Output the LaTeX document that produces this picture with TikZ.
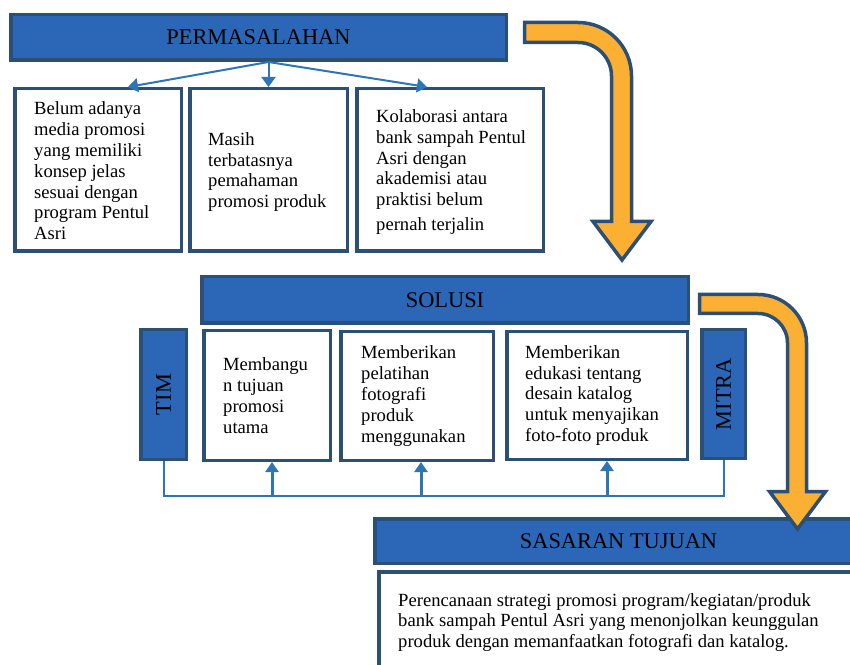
\documentclass[tikz,border=0pt]{standalone}
\usepackage{fontspec}
\setmainfont{Liberation Serif}
\usetikzlibrary{calc,arrows.meta,positioning}
\definecolor{boxc}{HTML}{2B67B6}
\definecolor{edgec}{HTML}{2C5075}
\definecolor{linec}{HTML}{2E75B6}
\definecolor{flowc}{HTML}{FBB034}
\tikzset{
  titlebox/.style={draw=edgec,line width=3.5pt,fill=boxc,inner sep=0pt,font=\fontsize{22.4}{26}\selectfont},
  cellbox/.style={draw=edgec,line width=3.5pt,fill=white,inner sep=0pt},
  txt/.style={font=\fontsize{18.6}{20.8}\selectfont,align=left,inner sep=0pt,anchor=west},
  ar/.style={-{Triangle[length=10pt,width=14pt]},line width=2pt,linec},
  upar/.style={-{Triangle[length=10pt,width=13pt]},line width=3pt,linec},
  busline/.style={line width=2pt,linec},
  flow/.style={draw=edgec,line width=3.5pt,fill=flowc}
}
\begin{document}
\begin{tikzpicture}[x=1pt,y=1pt]
\useasboundingbox (0,0) rectangle (850,664);
\clip (0,0) rectangle (850,664);
\node[titlebox,minimum width=495.5,minimum height=45.5] (perm) at (258.5,626.5) {PERMASALAHAN};
\node[cellbox,minimum width=166.5,minimum height=162.5] (pa) at (98,494) {};
\node[cellbox,minimum width=157.5,minimum height=162.5] (pb) at (268.5,494) {};
\node[cellbox,minimum width=186.5,minimum height=162.5] (pc) at (450,494) {};
\node[txt] (pat) at ($(pa.west)+(21,-1)$) {Belum adanya\\media promosi\\yang memiliki\\konsep jelas\\sesuai dengan\\program Pentul\\Asri};
\node[txt] (pbt) at ($(pb.west)+(20,-2)$) {Masih\\terbatasnya\\pemahaman\\promosi produk};
\node[txt] (pct) at ($(pc.west)+(21,-2)$) {Kolaborasi antara\\bank sampah Pentul\\Asri dengan\\akademisi atau\\praktisi belum\\[4pt]pernah terjalin};
\coordinate (split) at (pb.north |- perm.south);
\draw[ar] (split) -- ($(pa.north)+(30,0)$);
\draw[ar] (split) -- (pb.north);
\draw[ar] (split) -- ($(pc.north)+(-23,0)$);
\draw[flow] (524.5,641.5) -- (578,641.5) arc[start angle=90,end angle=0,radius=53.5]
  -- (631.5,442.5) -- (651,442.5) -- (622,404) -- (593,442.5) -- (611.5,442.5)
  -- (611.5,588) arc[start angle=0,end angle=90,radius=33.5] -- (524.5,621.5) -- cycle;
\node[titlebox,minimum width=486.5,minimum height=46.5] (sol) at (445,364) {SOLUSI};
\node[titlebox,minimum width=45.5,minimum height=129.5] (tim) at (163.5,269.5) {\rotatebox{90}{TIM}};
\node[titlebox,minimum width=43.5,minimum height=128.5] (mitra) at (723.5,270) {\rotatebox{90}{MITRA}};
\node[cellbox,minimum width=126.5,minimum height=129.5] (sa) at (267,268.5) {};
\node[cellbox,minimum width=152.5,minimum height=128.5] (sb) at (417,268) {};
\node[cellbox,minimum width=180.5,minimum height=127.5] (sc) at (597,268.5) {};
\node[txt] (sat) at ($(sa.west)+(21,0)$) {Membangu\\n tujuan\\promosi\\utama};
\node[txt] (sbt) at ($(sb.west)+(22,0)$) {Memberikan\\pelatihan\\fotografi\\produk\\menggunakan};
\node[txt] (sct) at ($(sc.west)+(20,0)$) {Memberikan\\edukasi tentang\\desain katalog\\untuk menyajikan\\foto-foto produk};
\coordinate (bl) at ($(tim.south)+(0,-35)$);
\coordinate (br) at (bl -| mitra.south);
\draw[busline] (tim.south) -- (bl) -- (br) -- (mitra.south);
\coordinate (ta) at ($(sa.south)+(5,0)$);
\coordinate (tb) at ($(sb.south)+(4,0)$);
\coordinate (tc) at ($(sc.south)+(10,0)$);
\draw[upar] (ta |- bl) -- (ta);
\draw[upar] (tb |- bl) -- (tb);
\draw[upar] (tc |- bl) -- (tc);
\node[titlebox,minimum width=487.5,minimum height=44.5] (goal) at (618.5,123) {SASARAN TUJUAN};
\node[cellbox,anchor=north west,minimum width=500,minimum height=150] (goalbox) at (377,94) {};
\node[txt,anchor=north west] (goalt) at ($(goalbox.north west)+(21,-23)$) {Perencanaan strategi promosi program/kegiatan/produk\\bank sampah Pentul Asri yang menonjolkan keunggulan\\produk dengan memanfaatkan fotografi dan katalog.};
\draw[flow] (699.5,369.5) -- (758,369.5) arc[start angle=90,end angle=0,radius=48.5]
  -- (806.5,172.5) -- (825.5,172.5) -- (797.5,135) -- (769.5,172.5) -- (787.5,172.5)
  -- (787.5,321) arc[start angle=0,end angle=90,radius=29.5] -- (699.5,350.5) -- cycle;
\end{tikzpicture}
\end{document}
